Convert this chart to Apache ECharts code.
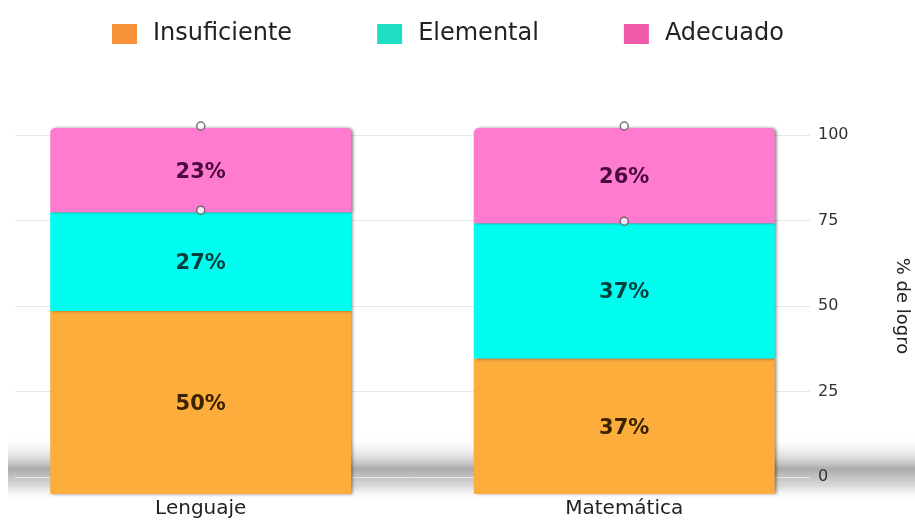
<!DOCTYPE html>
<html>
<head>
<meta charset="utf-8">
<script src="https://cdn.jsdelivr.net/npm/echarts@6/dist/echarts.min.js"></script>
<style>
html,body{margin:0;padding:0;background:#fff;}
#c{width:915px;height:521px;}
</style>
</head>
<body>
<div id="c"></div>
<script>
const categories = ['Lenguaje', 'Matemática'];
const insuficiente = [50, 37];
const elemental = [27, 37];
const adecuado = [23, 26];
const yTicks = [0, 25, 50, 75, 100];

const midTops = categories.map((c, i) => insuficiente[i] + elemental[i]);
const fullTops = categories.map((c, i) => insuficiente[i] + elemental[i] + adecuado[i]);

const FONT = '"DejaVu Sans", "Liberation Sans", Arial, sans-serif';
const chart = echarts.init(document.getElementById('c'), null, {renderer: 'canvas'});

const barShadow = {shadowColor: 'rgba(0,0,0,0.45)', shadowBlur: 3, shadowOffsetX: 2, shadowOffsetY: 0};
function lbl(color) {
  return {show: true, position: 'inside', formatter: '{c}%', color: color,
          fontFamily: FONT, fontWeight: 'bold', fontSize: 21, offset: [0, 2]};
}

chart.setOption({
  animation: false,
  backgroundColor: '#ffffff',
  graphic: [{
    type: 'rect', z: -10, silent: true,
    shape: {x: 8, y: 436, width: 907, height: 66},
    style: {
      fill: new echarts.graphic.LinearGradient(0, 0, 0, 1, [
        {offset: 0, color: 'rgba(255,255,255,0)'},
        {offset: 0.5, color: 'rgba(150,150,150,0.8)'},
        {offset: 0.75, color: 'rgba(190,190,190,0.6)'},
        {offset: 1, color: 'rgba(255,255,255,0)'}
      ])
    }
  }],
  legend: {
    top: 22, left: 112, padding: 0,
    itemWidth: 25, itemHeight: 20, itemGap: 85,
    icon: 'rect',
    textStyle: {fontFamily: FONT, fontSize: 24, color: '#222', padding: [0, 0, 0, 11]},
    data: [
      {name: 'Insuficiente', itemStyle: {color: '#F7923A'}},
      {name: 'Elemental', itemStyle: {color: '#1FDDC4'}},
      {name: 'Adecuado', itemStyle: {color: '#EE5AA8'}}
    ]
  },
  grid: [
    {left: -11, right: 79, top: 128, bottom: 27, outerBoundsMode: 'none', containLabel: false},
    {left: 15, right: 105, top: 135, bottom: 44, outerBoundsMode: 'none', containLabel: false}
  ],
  xAxis: [
    {type: 'category', gridIndex: 0, data: categories,
     axisLine: {show: false}, axisTick: {show: false},
     axisLabel: {fontFamily: FONT, fontSize: 20, color: '#222', margin: 5}},
    {type: 'category', gridIndex: 1, data: categories, show: false}
  ],
  yAxis: [
    {type: 'value', gridIndex: 0, min: 0, max: 100, show: false},
    {type: 'value', gridIndex: 1, min: yTicks[0], max: yTicks[yTicks.length - 1], interval: 25,
     position: 'right',
     axisLine: {show: false}, axisTick: {show: false},
     splitLine: {lineStyle: {color: '#e6e6e6', width: 1}},
     axisLabel: {fontFamily: FONT, fontSize: 16, color: '#333', margin: 8},
     name: '% de logro', nameLocation: 'middle', nameRotate: -90, nameGap: 83,
     nameTextStyle: {fontFamily: FONT, fontSize: 18, color: '#222'}}
  ],
  series: [
    {name: 'Insuficiente', type: 'bar', stack: 's', xAxisIndex: 0, yAxisIndex: 0,
     barWidth: 301, data: insuficiente,
     itemStyle: Object.assign({color: '#FDAD3C'}, barShadow), label: lbl('#3a2200')},
    {name: 'Elemental', type: 'bar', stack: 's', xAxisIndex: 0, yAxisIndex: 0,
     barWidth: 301, data: elemental,
     itemStyle: Object.assign({color: '#00FDF0'}, barShadow), label: lbl('#06403e')},
    {name: 'Adecuado', type: 'bar', stack: 's', xAxisIndex: 0, yAxisIndex: 0,
     barWidth: 301, data: adecuado,
     itemStyle: Object.assign({color: '#FF7BD0', borderRadius: [5, 5, 0, 0]}, barShadow),
     label: lbl('#4a0a3c')},
    {name: 'marks', type: 'scatter', xAxisIndex: 0, yAxisIndex: 0,
     data: midTops.map((v, i) => [i, v]).concat(fullTops.map((v, i) => [i, v])),
     symbol: 'circle', symbolSize: 8, symbolOffset: [0, -2], z: 5,
     itemStyle: {color: '#ffffff', borderColor: '#555', borderWidth: 1.5}}
  ]
});
</script>
</body>
</html>
